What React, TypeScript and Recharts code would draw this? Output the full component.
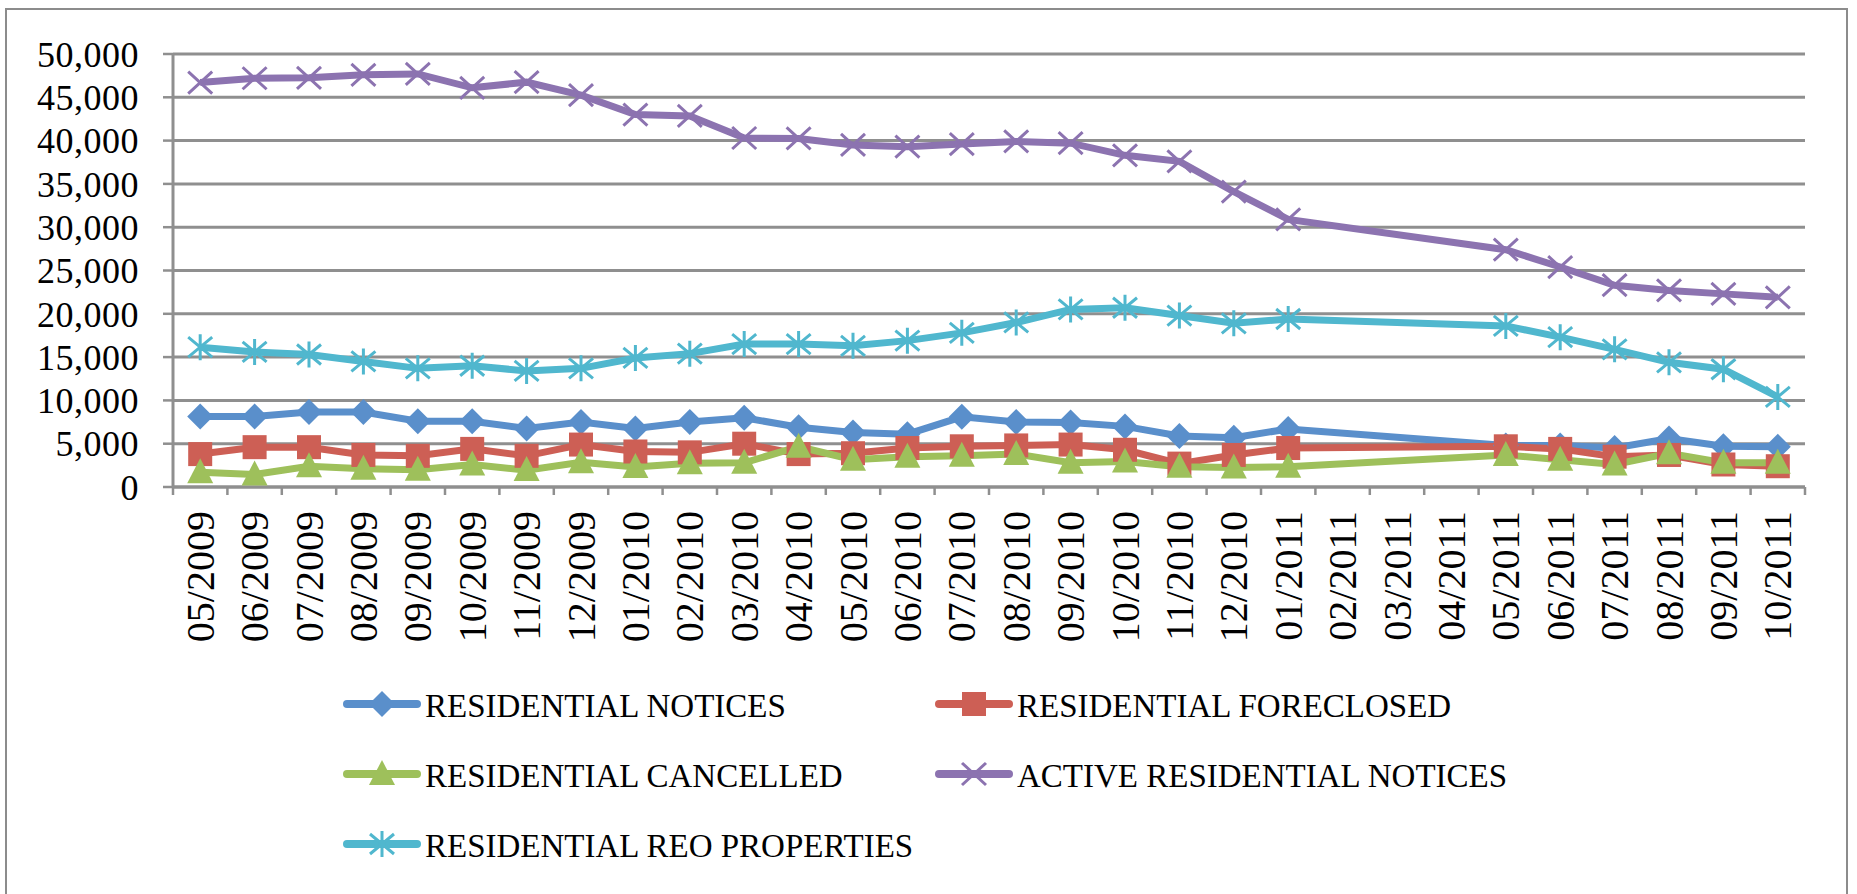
import React from 'react';
import { LineChart, Line, XAxis, YAxis, CartesianGrid, Legend } from 'recharts';

const months = [
  '05/2009', '06/2009', '07/2009', '08/2009', '09/2009', '10/2009', '11/2009', '12/2009',
  '01/2010', '02/2010', '03/2010', '04/2010', '05/2010', '06/2010', '07/2010', '08/2010',
  '09/2010', '10/2010', '11/2010', '12/2010', '01/2011', '02/2011', '03/2011', '04/2011',
  '05/2011', '06/2011', '07/2011', '08/2011', '09/2011', '10/2011',
];

const residentialNotices = [
  8150, 8150, 8650, 8650, 7600, 7600, 6750, 7500,
  6750, 7500, 8000, 6900, 6300, 6100, 8100, 7500,
  7450, 7000, 5900, 5700, 6700, null, null, null,
  4800, 4800, 4500, 5600, 4700, 4650,
];

const residentialForeclosed = [
  3800, 4600, 4600, 3700, 3600, 4400, 3600, 4900,
  4100, 4000, 5000, 3800, 3900, 4500, 4700, 4800,
  4900, 4300, 2700, 3700, 4500, null, null, null,
  4700, 4400, 3500, 3700, 2600, 2400,
];

const residentialCancelled = [
  1700, 1450, 2400, 2100, 2000, 2600, 1950, 2850,
  2300, 2750, 2800, 4650, 3150, 3500, 3600, 3800,
  2800, 2950, 2350, 2250, 2350, null, null, null,
  3700, 3150, 2600, 3900, 2800, 2800,
];

const activeResidentialNotices = [
  46700, 47200, 47250, 47600, 47700, 46100, 46750, 45250,
  43000, 42850, 40300, 40250, 39500, 39300, 39600, 39900,
  39700, 38300, 37600, 34100, 30900, null, null, null,
  27400, 25400, 23300, 22700, 22300, 21900,
];

const residentialReoProperties = [
  16150, 15600, 15300, 14500, 13700, 14000, 13400, 13700,
  14900, 15400, 16500, 16500, 16300, 16900, 17800, 19000,
  20500, 20700, 19800, 18900, 19400, null, null, null,
  18600, 17300, 15900, 14400, 13600, 10400,
];

const yTicks = [0, 5000, 10000, 15000, 20000, 25000, 30000, 35000, 40000, 45000, 50000];

const seriesNames = [
  'RESIDENTIAL NOTICES',
  'RESIDENTIAL FORECLOSED',
  'RESIDENTIAL CANCELLED',
  'ACTIVE RESIDENTIAL NOTICES',
  'RESIDENTIAL REO PROPERTIES',
];

type Shape = 'diamond' | 'square' | 'triangle' | 'x' | 'star';

const series: { key: string; name: string; color: string; shape: Shape; values: (number | null)[] }[] = [
  { key: 'notices', name: seriesNames[0], color: '#5A8FCB', shape: 'diamond', values: residentialNotices },
  { key: 'foreclosed', name: seriesNames[1], color: '#CD5F55', shape: 'square', values: residentialForeclosed },
  { key: 'cancelled', name: seriesNames[2], color: '#9EC05B', shape: 'triangle', values: residentialCancelled },
  { key: 'active', name: seriesNames[3], color: '#8C73B0', shape: 'x', values: activeResidentialNotices },
  { key: 'reo', name: seriesNames[4], color: '#50B7CE', shape: 'star', values: residentialReoProperties },
];

const data = months.map((m, i) => {
  const row: Record<string, string | number | null> = { month: m };
  series.forEach((s) => {
    row[s.key] = s.values[i];
  });
  return row;
});

const W = 1857;
const H = 894;
const MARGIN = { top: 54, right: 52, bottom: 0, left: 0 };
const Y_AXIS_W = 173;
const PLOT_BOTTOM = 487;
const X_AXIS_H = H - PLOT_BOTTOM;
const PLOT_W = W - MARGIN.right - Y_AXIS_W - MARGIN.left;
const STEP = PLOT_W / months.length;
const GRID = '#8f8f8f';
const FONT = '"Liberation Serif", "Times New Roman", serif';

function Marker({ shape, cx, cy, color }: { shape: Shape; cx: number; cy: number; color: string }) {
  switch (shape) {
    case 'diamond':
      return <polygon points={`${cx},${cy - 13} ${cx + 13},${cy} ${cx},${cy + 13} ${cx - 13},${cy}`} fill={color} />;
    case 'square':
      return <rect x={cx - 12} y={cy - 12} width={24} height={24} fill={color} />;
    case 'triangle':
      return <polygon points={`${cx},${cy - 14} ${cx + 13},${cy + 11} ${cx - 13},${cy + 11}`} fill={color} />;
    case 'x':
      return (
        <path
          d={`M${cx - 12},${cy - 11}L${cx + 12},${cy + 11}M${cx - 12},${cy + 11}L${cx + 12},${cy - 11}`}
          stroke={color}
          strokeWidth={3}
          fill="none"
        />
      );
    case 'star':
    default:
      return (
        <path
          d={`M${cx - 12},${cy - 10}L${cx + 12},${cy + 10}M${cx - 12},${cy + 10}L${cx + 12},${cy - 10}M${cx},${cy - 13}L${cx},${cy + 13}`}
          stroke={color}
          strokeWidth={3}
          fill="none"
        />
      );
  }
}

const makeDot = (shape: Shape, color: string) => (props: any) => {
  const { cx, cy, index } = props;
  if (cx == null || cy == null || Number.isNaN(cx) || Number.isNaN(cy)) return <g key={`d-${index}`} />;
  return (
    <g key={`d-${index}`}>
      <Marker shape={shape} cx={cx} cy={cy} color={color} />
    </g>
  );
};

const XTick = (props: any) => {
  const { x, y, payload, index } = props;
  const ty = y + 24;
  return (
    <g>
      <line x1={x - STEP / 2} x2={x - STEP / 2} y1={y} y2={y + 8} stroke={GRID} strokeWidth={2.5} />
      {index === months.length - 1 && (
        <line x1={x + STEP / 2} x2={x + STEP / 2} y1={y} y2={y + 8} stroke={GRID} strokeWidth={2.5} />
      )}
      <text
        x={x}
        y={ty}
        transform={`rotate(-90, ${x}, ${ty})`}
        textAnchor="end"
        dominantBaseline="central"
        fontFamily={FONT}
        fontSize={40}
        fill="#000"
      >
        {payload.value}
      </text>
    </g>
  );
};

const legendCols = [343, 935];
const legendRows = [706, 776, 846];

const renderLegend = () => (
  <svg width={W} height={H} style={{ display: 'block', pointerEvents: 'none' }}>
    {series.map((s, i) => {
      const x0 = legendCols[i % 2];
      const y0 = legendRows[Math.floor(i / 2)];
      return (
        <g key={s.key}>
          <line x1={x0 + 4} x2={x0 + 74} y1={y0 - 2} y2={y0 - 2} stroke={s.color} strokeWidth={8} strokeLinecap="round" />
          <Marker shape={s.shape} cx={x0 + 39} cy={y0 - 2} color={s.color} />
          <text x={x0 + 82} y={y0} dominantBaseline="central" fontFamily={FONT} fontSize={33} fill="#000">
            {s.name}
          </text>
        </g>
      );
    })}
  </svg>
);

const fmt = (v: number) => v.toLocaleString('en-US');

export default function App() {
  return (
    <div style={{ position: 'absolute', left: 0, top: 0, width: W, height: H, background: '#fff', overflow: 'hidden' }}>
      <div
        style={{
          position: 'absolute',
          left: 5,
          top: 8,
          width: 1843,
          height: 940,
          border: '2.5px solid #8c8c8c',
          boxSizing: 'border-box',
        }}
      />
      <div style={{ position: 'absolute', left: 0, top: 0 }}>
        <LineChart width={W} height={H} data={data} margin={MARGIN}>
          <CartesianGrid vertical={false} stroke={GRID} strokeWidth={3} />
          <XAxis
            dataKey="month"
            interval={0}
            height={X_AXIS_H}
            padding={{ left: STEP / 2, right: STEP / 2 }}
            tickLine={false}
            tickSize={0}
            tickMargin={0}
            axisLine={{ stroke: GRID, strokeWidth: 3 }}
            tick={<XTick />}
          />
          <YAxis
            width={Y_AXIS_W}
            domain={[0, 50000]}
            ticks={yTicks}
            interval={0}
            tickFormatter={fmt}
            tickSize={10}
            tickMargin={24}
            tickLine={{ stroke: GRID, strokeWidth: 2.5 }}
            axisLine={{ stroke: GRID, strokeWidth: 3 }}
            tick={{ fontFamily: FONT, fontSize: 36, fill: '#000', letterSpacing: 0.5 }}
          />
          <Legend
            layout="vertical"
            align="center"
            verticalAlign="middle"
            content={renderLegend}
            wrapperStyle={{ left: 0, top: 0, width: W, height: H, pointerEvents: 'none' }}
          />
          {series.map((s) => (
            <Line
              key={s.key}
              type="linear"
              dataKey={s.key}
              name={s.name}
              stroke={s.color}
              strokeWidth={7}
              connectNulls
              isAnimationActive={false}
              dot={makeDot(s.shape, s.color)}
              activeDot={false}
            />
          ))}
        </LineChart>
      </div>
    </div>
  );
}
